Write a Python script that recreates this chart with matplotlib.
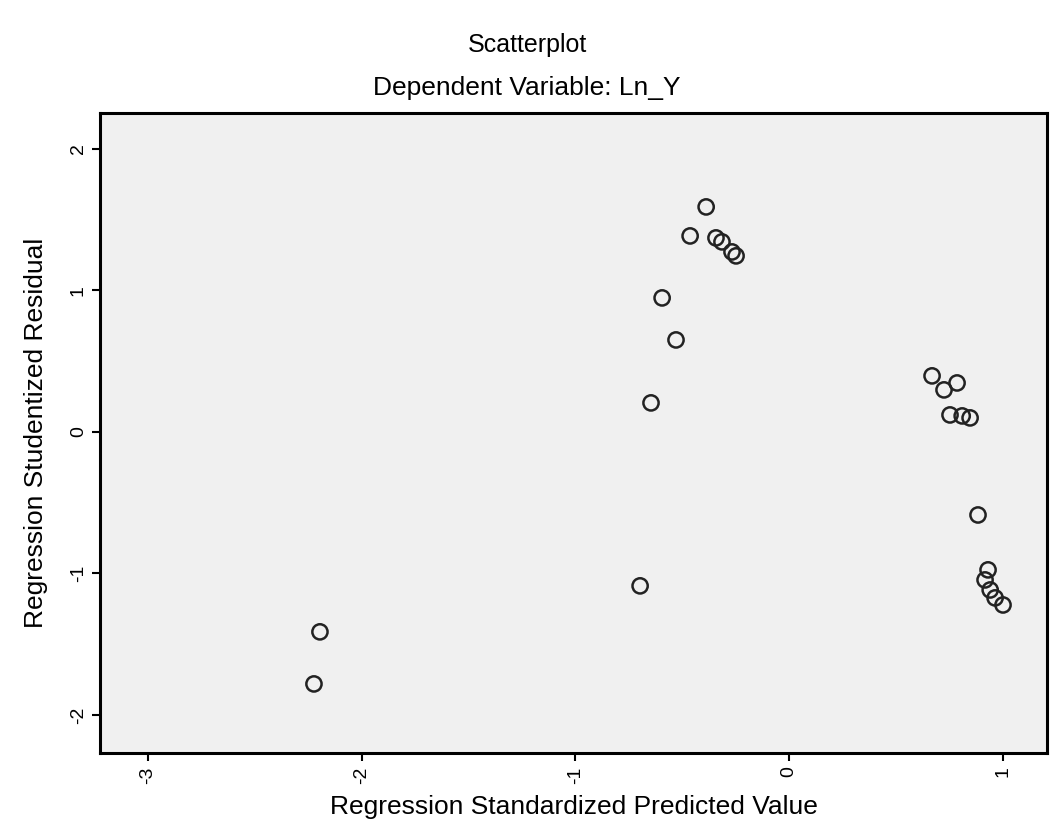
import matplotlib
matplotlib.use("Agg")
import matplotlib.pyplot as plt

# Regression diagnostics scatter (SPSS style)
pred = [-2.195, -2.223,
        -0.697, -0.646, -0.529, -0.594, -0.463, -0.388, -0.342, -0.314, -0.267, -0.248,
        0.669, 0.725, 0.786, 0.753, 0.810, 0.847, 0.884, 0.931, 0.917, 0.941, 0.964, 1.001]
resid = [-1.413, -1.781,
         -1.088, 0.205, 0.650, 0.947, 1.385, 1.590, 1.371, 1.343, 1.272, 1.244,
         0.396, 0.297, 0.346, 0.120, 0.113, 0.099, -0.587, -0.975, -1.046, -1.117, -1.173, -1.223]
xticks = [-3, -2, -1, 0, 1]
yticks = [-2, -1, 0, 1, 2]

plt.rcParams['font.family'] = ['Liberation Sans', 'DejaVu Sans']

fig = plt.figure(figsize=(10.54, 8.3), dpi=100)
ax = fig.add_axes([0.0949, 0.0928, 0.8985, 0.7711])
ax.set_facecolor('#f0f0f0')

ax.scatter(pred, resid, s=120, facecolors='none', edgecolors='#222222', linewidths=1.8)

ax.set_xlim(-3.224, 1.207)
ax.set_ylim(-2.269, 2.254)
ax.set_xticks(xticks)
ax.set_yticks(yticks)
ax.set_xticklabels([str(t) for t in xticks], rotation=90, fontsize=14)
ax.set_yticklabels([str(t) for t in yticks], rotation=90, va='center', fontsize=14)
ax.tick_params(direction='out', length=6, width=1.5)
for sp in ax.spines.values():
    sp.set_linewidth(2.2)

ax.set_xlabel('Regression Standardized Predicted Value', fontsize=19, labelpad=8)
ax.set_ylabel('Regression Studentized Residual', fontsize=19, labelpad=16)
fig.text(0.50, 0.946, 'Scatterplot', ha='center', va='center', fontsize=18)
fig.text(0.50, 0.894, 'Dependent Variable: Ln_Y', ha='center', va='center', fontsize=19)

fig.savefig('out.png', dpi=100)
